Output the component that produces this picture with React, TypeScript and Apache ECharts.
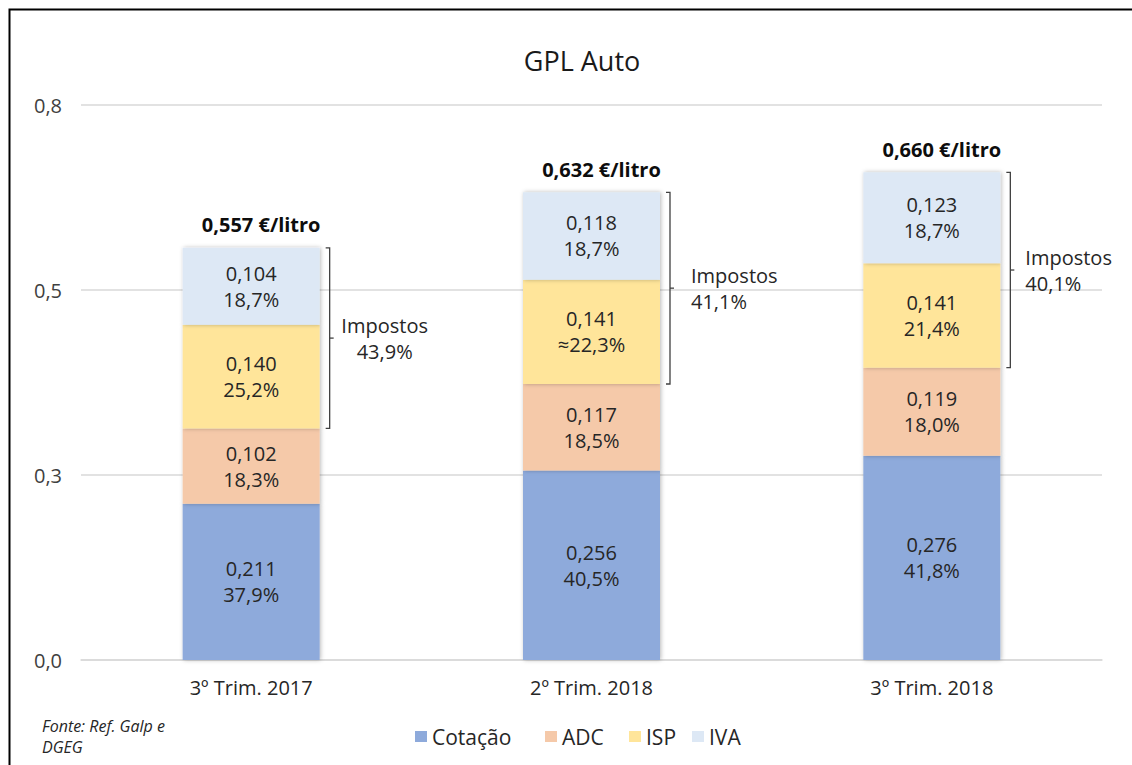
import React, { useEffect, useRef } from "react";
import * as echarts from "echarts";

const categories = ["3º Trim. 2017", "2º Trim. 2018", "3º Trim. 2018"];
const cotacao = [0.211, 0.256, 0.276];
const adc = [0.102, 0.117, 0.119];
const isp = [0.14, 0.141, 0.141];
const iva = [0.104, 0.118, 0.123];
const cotacaoPct = ["37,9%", "40,5%", "41,8%"];
const adcPct = ["18,3%", "18,5%", "18,0%"];
const ispPct = ["25,2%", "≈22,3%", "21,4%"];
const ivaPct = ["18,7%", "18,7%", "18,7%"];
const totals = [0.557, 0.632, 0.66];
const impostosPct = ["43,9%", "41,1%", "40,1%"];
const yTickLabels = ["0,0", "0,3", "0,5", "0,8"];
const legendNames = ["Cotação", "ADC", "ISP", "IVA"];

const FONT = "'Open Sans', 'Noto Sans', sans-serif";
const BAR_W = 137;

const fmt3 = (v: number) => v.toFixed(3).replace(".", ",");

export default function App() {
  const ref = useRef<HTMLDivElement>(null);
  useEffect(() => {
    if (!ref.current) return;
    const chart = echarts.init(ref.current, undefined, { renderer: "svg" });

    const mkBar = (name: string, data: number[], pct: string[], color: string) => ({
      name,
      type: "bar",
      stack: "total",
      barWidth: BAR_W,
      data,
      itemStyle: {
        color,
        shadowBlur: 4,
        shadowColor: "rgba(0,0,0,0.28)",
        shadowOffsetX: 1,
        shadowOffsetY: 0,
      },
      label: {
        show: true,
        position: "inside",
        fontFamily: FONT,
        fontSize: 20,
        lineHeight: 26,
        color: "#262626",
        formatter: (p: any) => fmt3(p.value) + "\n" + pct[p.dataIndex],
      },
      emphasis: { disabled: true },
    });

    const bracketData = categories.map((_, i) => [
      i,
      cotacao[i] + adc[i],
      cotacao[i] + adc[i] + isp[i] + iva[i],
      totals[i],
    ]);

    const textLayout = [
      { align: "center", dx: 55 },
      { align: "left", dx: 21 },
      { align: "left", dx: 15 },
    ];

    const legendLefts = [415, 545, 629, 692];

    chart.setOption({
      animation: false,
      backgroundColor: "#ffffff",
      title: {
        text: "GPL Auto",
        left: 577,
        top: 42,
        textAlign: "center",
        textStyle: { fontFamily: FONT, fontSize: 27, fontWeight: "normal", color: "#1a1a1a" },
      },
      grid: { left: 81, right: 30, top: 105, bottom: 105, containLabel: false },
      legend: legendNames.map((n, k) => ({
        data: [n],
        left: legendLefts[k],
        top: 726,
        padding: 0,
        itemWidth: 12,
        itemHeight: 11,
        icon: "rect",
        selectedMode: false,
        textStyle: { fontFamily: FONT, fontSize: 21, color: "#262626" },
      })),
      xAxis: {
        type: "category",
        data: categories,
        axisLine: { lineStyle: { color: "#d9d9d9", width: 1.5 } },
        axisTick: { show: false },
        axisLabel: { fontFamily: FONT, fontSize: 20, color: "#262626", margin: 17 },
      },
      yAxis: {
        type: "value",
        min: 0,
        max: 0.75,
        interval: 0.25,
        axisLine: { show: false },
        axisTick: { show: false },
        splitLine: { lineStyle: { color: "#d9d9d9", width: 1.5 } },
        axisLabel: {
          fontFamily: FONT,
          fontSize: 20,
          color: "#404040",
          margin: 19,
          formatter: (v: number) => yTickLabels[Math.round(v / 0.25)],
        },
      },
      graphic: [
        {
          type: "rect",
          shape: { x: 9.5, y: 9.5, width: 1200, height: 900 },
          style: { fill: "none", stroke: "#000", lineWidth: 2 },
          z: 100,
        },
        {
          type: "text",
          left: 42,
          top: 718,
          style: {
            text: "Fonte: Ref. Galp e",
            font: "italic 16px " + FONT,
            fill: "#262626",
          },
        },
        {
          type: "text",
          left: 42,
          top: 739,
          style: {
            text: "DGEG",
            font: "italic 16px " + FONT,
            fill: "#262626",
          },
        },
      ],
      series: [
        mkBar("Cotação", cotacao, cotacaoPct, "#8eaadb"),
        mkBar("ADC", adc, adcPct, "#f5c9a9"),
        mkBar("ISP", isp, ispPct, "#ffe59a"),
        mkBar("IVA", iva, ivaPct, "#dde8f5"),
        {
          type: "custom",
          name: "brackets",
          clip: false,
          silent: true,
          data: bracketData,
          encode: { x: 0, y: 2 },
          z: 10,
          renderItem: (params: any, api: any) => {
            const i = api.value(0);
            const lo = api.coord([i, api.value(1)]);
            const hi = api.coord([i, api.value(2)]);
            const total = api.value(3);
            const cx = hi[0];
            const bx = cx + BAR_W / 2 + 10;
            const mid = (lo[1] + hi[1]) / 2;
            const tl = textLayout[params.dataIndex];
            return {
              type: "group",
              children: [
                {
                  type: "polyline",
                  shape: {
                    points: [
                      [bx - 4, hi[1]],
                      [bx, hi[1]],
                      [bx, lo[1]],
                      [bx - 4, lo[1]],
                    ],
                  },
                  style: { stroke: "#404040", lineWidth: 1.3, fill: "none" },
                },
                {
                  type: "line",
                  shape: { x1: bx, y1: mid, x2: bx + 4, y2: mid },
                  style: { stroke: "#404040", lineWidth: 1.3 },
                },
                {
                  type: "text",
                  style: {
                    text: "Impostos\n" + impostosPct[params.dataIndex],
                    x: bx + tl.dx,
                    y: mid,
                    align: tl.align,
                    verticalAlign: "middle",
                    font: "20px " + FONT,
                    lineHeight: 26,
                    fill: "#262626",
                  },
                },
                {
                  type: "text",
                  style: {
                    text: fmt3(total) + " €/litro",
                    x: cx + 10,
                    y: hi[1] - 23,
                    align: "center",
                    verticalAlign: "middle",
                    font: "bold 20px " + FONT,
                    fill: "#0d0d0d",
                  },
                },
              ],
            };
          },
        },
      ],
    });
    return () => chart.dispose();
  }, []);
  return (
    <div
      ref={ref}
      style={{ position: "absolute", left: 0, top: 0, width: 1132, height: 765 }}
    />
  );
}
